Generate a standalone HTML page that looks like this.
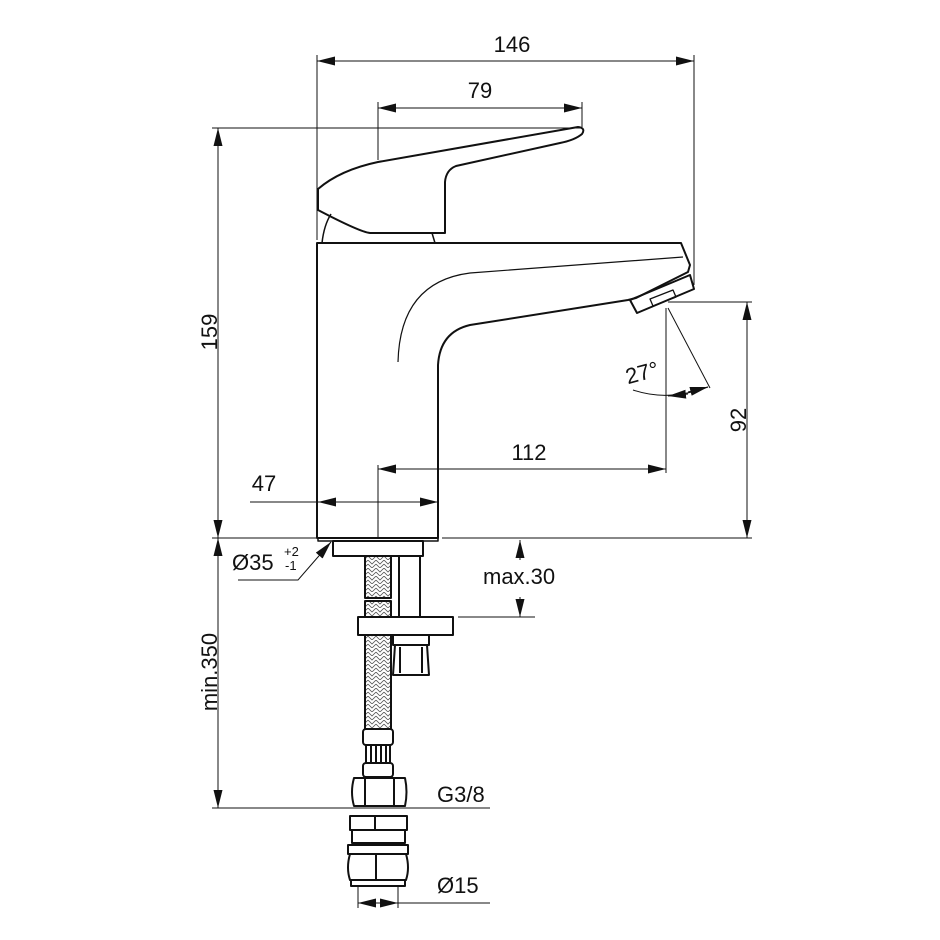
<!DOCTYPE html>
<html><head><meta charset="utf-8"><style>
html,body{margin:0;padding:0;background:#fff;}
svg{display:block;}
text{font-family:"Liberation Sans",sans-serif;fill:#111;}
</style></head><body>
<svg width="940" height="940" viewBox="0 0 940 940" xmlns="http://www.w3.org/2000/svg">
<defs>
<marker id="a" viewBox="0 0 18 9" refX="18" refY="4.5" markerWidth="18" markerHeight="9" markerUnits="userSpaceOnUse" orient="auto-start-reverse">
<path d="M0,0 L18,4.5 L0,9 z" fill="#111"/></marker>
<pattern id="br" width="8" height="8" patternUnits="userSpaceOnUse">
<path d="M0,0 L4,4 L8,0 M0,4 L4,8 L8,4" stroke="#555" stroke-width="0.8" fill="none"/></pattern>
</defs>
<g stroke="#111" fill="none" stroke-width="1">
<line x1="317" y1="55" x2="317" y2="240"/>
<line x1="694" y1="55" x2="694" y2="285"/>
<line x1="317" y1="61" x2="694" y2="61" marker-start="url(#a)" marker-end="url(#a)"/>
<line x1="378" y1="102" x2="378" y2="160"/>
<line x1="582" y1="102" x2="582" y2="127"/>
<line x1="378" y1="108" x2="582" y2="108" marker-start="url(#a)" marker-end="url(#a)"/>
<line x1="212" y1="128" x2="580" y2="128"/>
<line x1="218" y1="128" x2="218" y2="538" marker-start="url(#a)" marker-end="url(#a)"/>
<line x1="212" y1="538" x2="316" y2="538"/>
<line x1="442" y1="538" x2="752" y2="538"/>
<line x1="668" y1="302" x2="752" y2="302"/>
<line x1="747" y1="302" x2="747" y2="538" marker-start="url(#a)" marker-end="url(#a)"/>
<line x1="666" y1="308" x2="666" y2="473"/>
<line x1="668" y1="308" x2="710" y2="388"/>
<path d="M633,390 Q668,402 708,387"/>
<path d="M688,394 L668,396" marker-end="url(#a)"/>
<path d="M688,392 L708,387" marker-end="url(#a)"/>
<line x1="378" y1="469" x2="666" y2="469" marker-start="url(#a)" marker-end="url(#a)"/>
<line x1="378" y1="465" x2="378" y2="538"/>
<line x1="250" y1="502" x2="438" y2="502"/>
<path d="M338,502 L318,502" marker-end="url(#a)"/>
<path d="M418,502 L438,502" marker-end="url(#a)"/>
<line x1="218" y1="538" x2="218" y2="808" marker-start="url(#a)" marker-end="url(#a)"/>
<line x1="212" y1="808" x2="490" y2="808"/>
<path d="M520,560 L520,540" marker-end="url(#a)"/>
<path d="M520,597 L520,617" marker-end="url(#a)"/>
<line x1="458" y1="617" x2="535" y2="617"/>
<path d="M238,580 L298,580 L331,542" marker-end="url(#a)"/>
<line x1="358" y1="885" x2="358" y2="908"/>
<line x1="398" y1="885" x2="398" y2="908"/>
<line x1="358" y1="903" x2="490" y2="903"/>
<path d="M376,903 L358,903" marker-end="url(#a)"/>
<path d="M380,903 L398,903" marker-end="url(#a)"/>
</g>
<g stroke="#111" fill="none" stroke-width="2" stroke-linejoin="round">
<path d="M318,189 Q340,170 378,162 L578,127 Q586,128 582,134 Q575,140 560,143 L456,166 Q446,170 445,182 L445,233 L370,233 Q360,232 318,210 Z"/>
<path d="M322,243 Q324,225 331,214" stroke-width="1.5"/>
<path d="M432,233 L435,243" stroke-width="1.5"/>
<path d="M317,243 L681,243 L690,265 L688,272 L636,298 L628,300 L470,325 Q440,332 438,365 L438,538 L317,538 Z"/>
<path d="M630,300 L690,275 L694,289 L637,313 Z"/>
<path d="M650,299 L673,290 L676,297 L653,306 Z" stroke-width="1.3"/>
<path d="M398,362 Q400,282 470,273 L683,257" stroke-width="1.2"/>
<path d="M318,538 L318,541 L438,541 L438,538" stroke-width="1.5"/>
<rect x="333" y="541" width="90" height="15"/>
<rect x="365" y="556" width="26" height="42" fill="url(#br)"/>
<rect x="365" y="601" width="26" height="16" fill="url(#br)"/>
<rect x="365" y="635" width="26" height="94" fill="url(#br)"/>
<rect x="399" y="556" width="21" height="61"/>
<rect x="358" y="617" width="95" height="18"/>
<rect x="393" y="635" width="36" height="10"/>
<path d="M395,645 L427,645 L429,675 L393,675 Z"/>
<line x1="400" y1="647" x2="400" y2="673"/><line x1="422" y1="647" x2="422" y2="673"/>
<rect x="363" y="729" width="30" height="16" rx="3"/>
<rect x="366" y="745" width="24" height="18"/>
<line x1="371" y1="746" x2="371" y2="762"/><line x1="376" y1="746" x2="376" y2="762"/><line x1="381" y1="746" x2="381" y2="762"/><line x1="386" y1="746" x2="386" y2="762"/>
<rect x="363" y="763" width="30" height="14" rx="3"/>
<path d="M354,778 L405,778 Q408,792 405,806 L354,806 Q350,792 354,778 Z"/>
<line x1="365" y1="778" x2="365" y2="806"/><line x1="394" y1="778" x2="394" y2="806"/>
<rect x="350" y="816" width="57" height="14"/>
<line x1="375" y1="816" x2="375" y2="830"/>
<rect x="352" y="830" width="53" height="13"/>
<rect x="348" y="845" width="60" height="9"/>
<path d="M350,854 L406,854 Q410,868 406,880 L350,880 Q346,868 350,854 Z"/>
<line x1="376" y1="854" x2="376" y2="880"/>
<rect x="351" y="880" width="54" height="6"/>
</g>
<text x="512" y="52" font-size="22" text-anchor="middle">146</text>
<text x="480" y="98" font-size="22" text-anchor="middle">79</text>
<text x="210" y="332" font-size="22" text-anchor="middle" transform="rotate(-90 210 332)" dy="7">159</text>
<text x="739" y="420" font-size="22" text-anchor="middle" transform="rotate(-90 739 420)" dy="7">92</text>
<text x="529" y="460" font-size="22" text-anchor="middle">112</text>
<text x="264" y="491" font-size="22" text-anchor="middle">47</text>
<text x="644" y="380" font-size="22" text-anchor="middle" transform="rotate(-15 644 380)">27°</text>
<text x="232" y="570" font-size="22">Ø35</text>
<text x="284" y="556" font-size="13">+2</text>
<text x="285" y="570" font-size="13">-1</text>
<text x="483" y="584" font-size="22">max.30</text>
<text x="210" y="672" font-size="22" text-anchor="middle" transform="rotate(-90 210 672)" dy="7">min.350</text>
<text x="437" y="802" font-size="22">G3/8</text>
<text x="437" y="893" font-size="22">Ø15</text>
</svg>
</body></html>
